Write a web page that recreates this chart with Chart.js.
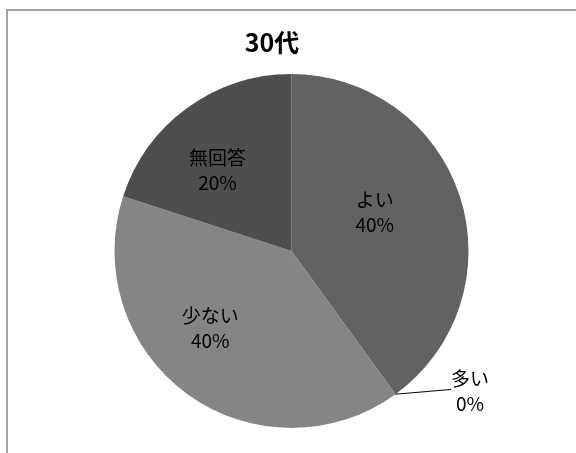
<!DOCTYPE html>
<html>
<head>
<meta charset="utf-8">
<script src="https://cdn.jsdelivr.net/npm/chart.js@4"></script>
<style>
html,body{margin:0;padding:0;background:#fff;}
#wrap{width:576px;height:453px;position:relative;}
</style>
</head>
<body>
<div id="wrap"><canvas id="c" width="576" height="453"></canvas></div>
<script>
const titleText = '30代';
const categories = ['よい', '多い', '少ない', '無回答'];
const values = [40, 0, 40, 20];
const percentLabels = ['40%', '0%', '40%', '20%'];
const sliceColors = ['#626262', '#9a9a9a', '#858585', '#4e4e4e'];

// label anchor in polar terms: [angle from top (deg, clockwise), radius fraction]
const labelPolar = [[64.8, 0.52], [128, 1.28], [226.8, 0.63], [-42.4, 0.62]];

const framePlugin = {
  id: 'frame',
  beforeDraw(chart) {
    const ctx = chart.ctx;
    ctx.save();
    ctx.fillStyle = '#fff';
    ctx.fillRect(0, 0, chart.width, chart.height);
    ctx.strokeStyle = '#a3a3a3';
    ctx.lineWidth = 2;
    ctx.strokeRect(7, 10, chart.width + 20, chart.height + 20);
    ctx.fillStyle = '#000';
    ctx.font = 'bold 25px "Noto Sans CJK JP", sans-serif';
    ctx.textAlign = 'center';
    ctx.textBaseline = 'middle';
    ctx.fillText(titleText, 272, 42);
    ctx.restore();
  }
};

const labelPlugin = {
  id: 'sliceLabels',
  afterDatasetsDraw(chart) {
    const ctx = chart.ctx;
    const meta = chart.getDatasetMeta(0);
    ctx.save();
    ctx.font = '19px "Noto Sans CJK JP", sans-serif';
    ctx.fillStyle = '#000';
    ctx.textAlign = 'center';
    ctx.textBaseline = 'middle';
    meta.data.forEach((arc, i) => {
      const r = arc.outerRadius;
      const cx = arc.x, cy = arc.y;
      const a = labelPolar[i][0] * Math.PI / 180;
      const f = labelPolar[i][1];
      const lx = cx + Math.sin(a) * r * f;
      const ly = cy - Math.cos(a) * r * f;
      if (f > 1) {
        // leader line from arc edge to label
        const mid = (arc.startAngle + arc.endAngle) / 2;
        const ex = cx + Math.cos(mid) * r;
        const ey = cy + Math.sin(mid) * r;
        ctx.strokeStyle = '#000';
        ctx.lineWidth = 1;
        ctx.beginPath();
        ctx.moveTo(ex, ey);
        ctx.lineTo(lx - 19, ly - 1);
        ctx.stroke();
      }
      ctx.fillText(categories[i], lx, ly - 12);
      ctx.fillText(percentLabels[i], lx, ly + 13);
    });
    ctx.restore();
  }
};

new Chart(document.getElementById('c'), {
  type: 'pie',
  data: {
    labels: categories,
    datasets: [{
      data: values,
      backgroundColor: sliceColors,
      borderWidth: 0
    }]
  },
  options: {
    responsive: false,
    animation: false,
    layout: { padding: { top: 74, bottom: 25, left: 114.5, right: 107.5 } },
    plugins: {
      legend: { display: false },
      title: { display: false },
      tooltip: { enabled: false }
    }
  },
  plugins: [framePlugin, labelPlugin]
});
</script>
</body>
</html>
